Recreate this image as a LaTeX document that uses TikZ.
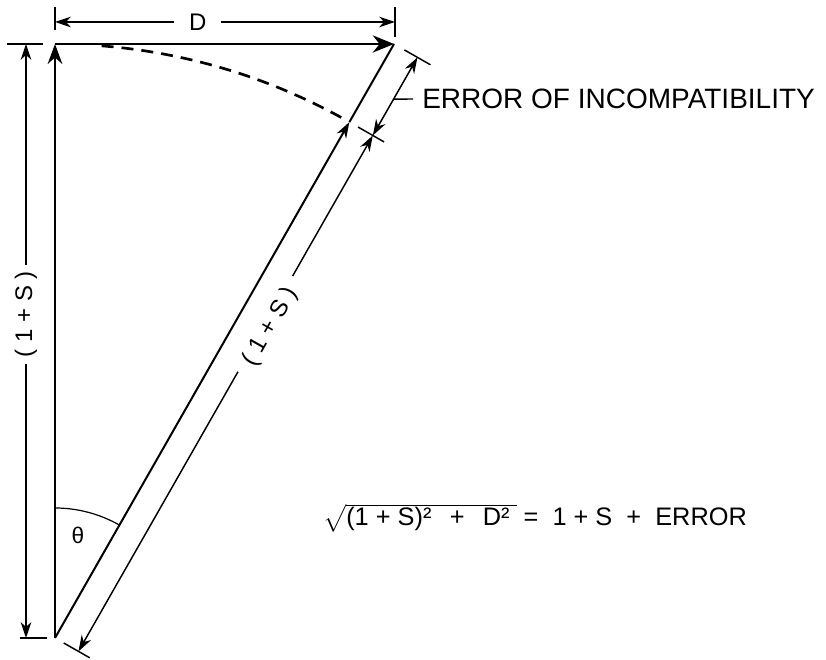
\documentclass[tikz,border=0pt]{standalone}
\usepackage{amsmath}
\usepackage{fontspec}
\setmainfont{Liberation Sans}
\usetikzlibrary{arrows.meta}

\tikzset{
  main/.style={line width=1.5pt},
  dimline/.style={line width=1.1pt, {Stealth[length=12pt,width=8pt]}-{Stealth[length=12pt,width=8pt]}},
  ext/.style={line width=1.1pt},
  lbl/.style={font=\fontsize{18}{21}\selectfont, fill=white, inner ysep=2pt},
}

\begin{document}
\begin{tikzpicture}[x=0.75pt,y=0.75pt]
\useasboundingbox (-55,-22) rectangle (771,638);

\coordinate (O) at (0,0);
\coordinate (T) at (0,594);
\coordinate (C) at (339,594);
\coordinate (A) at (60.29:594);

\draw[main, -{Stealth[length=15pt,width=11pt]}] (O) -- (T);
\draw[main, -{Stealth[length=16pt,width=13pt]}] (T) -- (C);
\draw[main, -{Stealth[length=12pt,width=8pt]}] (O) -- (A);
\draw[main] (A) -- (C);
\draw[line width=2pt, dash pattern=on 9pt off 6pt] (85.5:594) arc[start angle=85.5, end angle=61, radius=594];
\draw[line width=0.9pt] (90:130) arc[start angle=90, end angle=60.29, radius=130];
\node[font=\fontsize{17}{20}\selectfont] (theta) at (23,103) {θ};

% dimension D
\coordinate (D0) at (0,616);
\coordinate (D1) at (340,616);
\draw[ext] (D0) ++(0,-8) -- ++(0,23);
\draw[ext] (D1) ++(0,-15) -- ++(0,30);
\draw[dimline] (D0) -- (D1) node[pos=0.42, lbl, inner xsep=11pt] (dlbl) {D};

% dimension 1+S, left
\coordinate (L0) at (-29,0);
\coordinate (L1) at (-29,594);
\draw[ext] (L1) ++(-19,0) -- ++(36,0);
\draw[ext] (L0) ++(-6,0) -- ++(27,0);
\draw[dimline] (L0) -- (L1) node[pos=0.545, lbl, rotate=90, inner xsep=5pt] (llbl) {( 1 + S )};

% dimensions along the slant
\coordinate (P0) at ([shift={(-29.71:27)}]O);
\coordinate (P1) at ([shift={(-29.71:27)}]A);
\coordinate (P2) at ([shift={(-29.71:27)}]C);
\draw[ext] (O) ++(-29.71:10) -- ++(-29.71:30);
\draw[ext] (A) ++(-29.71:10) -- ++(-29.71:30);
\draw[ext] (C) ++(-29.71:12) -- ++(-29.71:30);
\draw[dimline] (P0) -- (P1);
\draw[dimline] (P1) -- (P2);
\node[lbl, rotate=60.29, inner xsep=9pt] (slbl) at (215.6,311.1) {( 1 + S )};

\coordinate (E1) at ([shift={(60.29:41.9)}]P1);
\node[anchor=west, inner xsep=6.75pt, inner ysep=0pt, font=\fontsize{21}{25}\selectfont] (err) at (358,539) {ERROR OF INCOMPATIBILITY};
\draw[ext] (E1) -- (err.west);

\node[anchor=base west, inner sep=0pt, font=\fontsize{19}{22}\selectfont] (eq) at (268,112)
  {$\sqrt{\text{(1 + S)² \,\ + \,\ D² }}$ = \ 1 + S \ + \ ERROR};

\end{tikzpicture}
\end{document}
